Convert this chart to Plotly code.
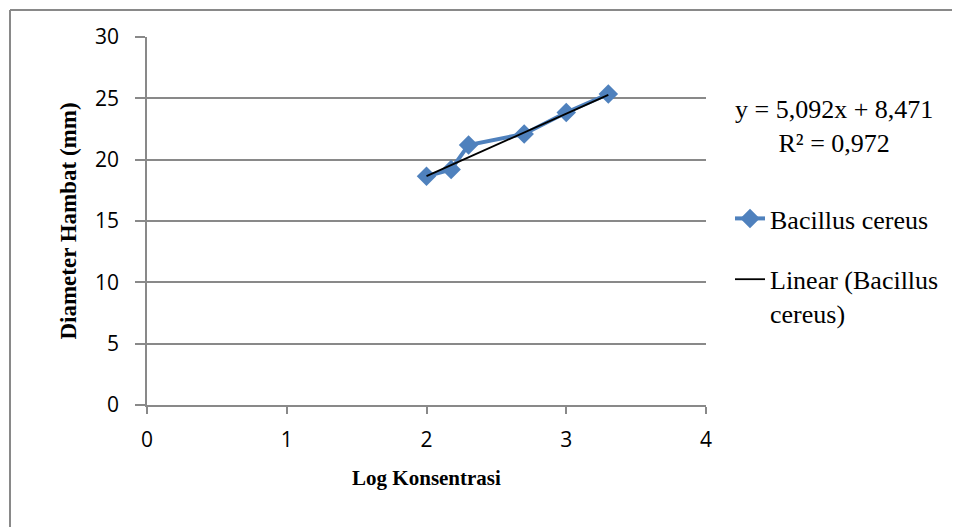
import plotly.graph_objects as go

log_konsentrasi = [2.0, 2.176, 2.301, 2.699, 3.0, 3.301]
diameter_hambat = [18.65, 19.2, 21.2, 22.1, 23.85, 25.35]
slope = 5.092
intercept = 8.471
r_squared = 0.972

x_ticks = [0, 1, 2, 3, 4]
y_ticks = [0, 5, 10, 15, 20, 25, 30]

trend_x = [min(log_konsentrasi), max(log_konsentrasi)]
trend_y = [slope * v + intercept for v in trend_x]

fig = go.Figure()
fig.add_trace(go.Scatter(
    x=log_konsentrasi, y=diameter_hambat, mode="lines+markers",
    name="Bacillus cereus", legendgroup="a",
    line=dict(color="#4F81BD", width=4),
    marker=dict(symbol="diamond", size=15, color="#4F81BD"),
))
fig.add_trace(go.Scatter(
    x=trend_x, y=trend_y, mode="lines",
    name="Linear (Bacillus<br>cereus)", legendgroup="b",
    line=dict(color="black", width=1.8),
))

# page body has an 8px margin; work in screen pixels and offset
OFF = 8
W, H = 960 - OFF, 527 - OFF
L, T = 147 - OFF, 37 - OFF
pw, ph = 559, 368
R = W - L - pw
B = H - T - ph

def px(xs):
    return (xs - OFF - L) / pw

def py(ys):
    return (H - B - (ys - OFF)) / ph

serif = "Liberation Serif"
sans = "Open Sans"

fig.update_layout(
    width=W, height=H,
    margin=dict(l=L, r=R, t=T, b=B),
    paper_bgcolor="white", plot_bgcolor="white",
    showlegend=True,
    legend=dict(x=px(730), y=py(195), xanchor="left", yanchor="top",
                font=dict(family=serif, size=26, color="black"),
                tracegroupgap=24, traceorder="grouped", valign="top",
                bgcolor="rgba(0,0,0,0)"),
    xaxis=dict(range=[0, 4], tickvals=x_ticks, showgrid=False, zeroline=False,
               showline=True, linecolor="#898989", linewidth=1.5,
               ticks="outside", ticklen=7, tickcolor="#898989", tickwidth=1.5,
               ticklabelstandoff=8,
               tickfont=dict(family=sans, size=21, color="black"),
               title=dict(text="<b>Log Konsentrasi</b>",
                          font=dict(family=serif, size=21, color="black"),
                          standoff=18)),
    yaxis=dict(range=[0, 30], tickvals=y_ticks, showgrid=True, gridcolor="#898989",
               gridwidth=1.5, zeroline=False,
               showline=True, linecolor="#898989", linewidth=1.5,
               ticks="outside", ticklen=10, tickcolor="#898989", tickwidth=1.5,
               ticklabelstandoff=12,
               tickfont=dict(family=sans, size=21, color="black"),
               title=dict(text="<b>Diameter Hambat (mm)</b>",
                          font=dict(family=serif, size=23, color="black"),
                          standoff=12)),
    annotations=[dict(
        xref="paper", yref="paper", x=px(834), y=py(126),
        text=f"y = {slope:.3f}x + {intercept:.3f}".replace(".", ",") + "<br>" +
             f"R² = {r_squared:.3f}".replace(".", ","),
        showarrow=False, align="center", xanchor="center", yanchor="middle",
        font=dict(family=serif, size=26, color="black"),
    )],
    shapes=[
        dict(type="line", xref="paper", yref="paper",
             x0=px(10), x1=px(975), y0=py(10), y1=py(10),
             line=dict(color="#898989", width=2)),
        dict(type="line", xref="paper", yref="paper",
             x0=px(10), x1=px(10), y0=py(10), y1=py(540),
             line=dict(color="#898989", width=2)),
    ],
)

fig.write_html("out.html")
